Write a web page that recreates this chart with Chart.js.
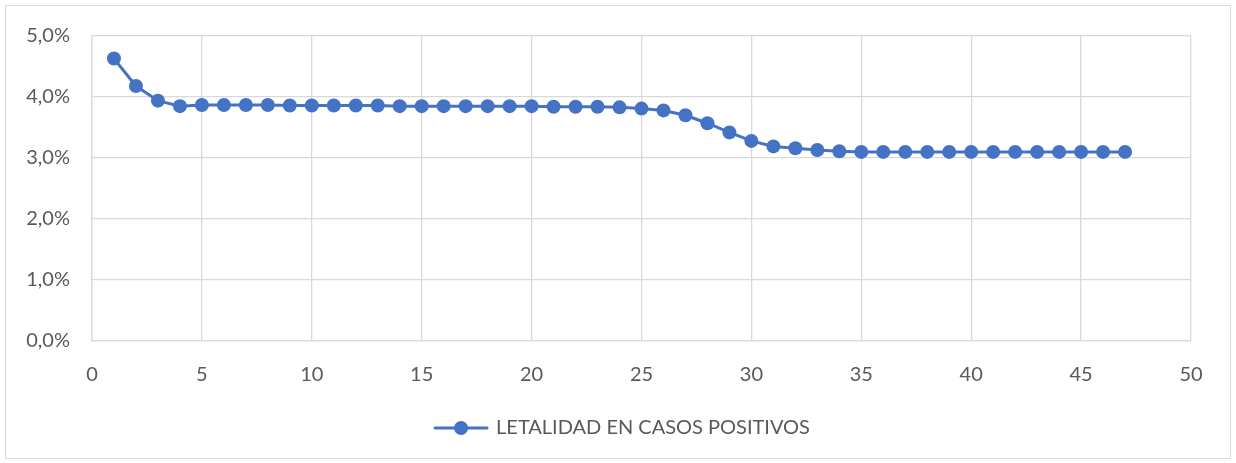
<!DOCTYPE html>
<html>
<head>
<meta charset="utf-8">
<script src="https://cdn.jsdelivr.net/npm/chart.js@4.4.1/dist/chart.umd.min.js"></script>
<style>
  html, body { margin: 0; padding: 0; background: #fff; }
  #frame { position: absolute; left: 5px; top: 5px; width: 1224px; height: 452px; border: 1px solid #d9d9d9; }
  #wrap { position: absolute; left: 0; top: 0; width: 1236px; height: 463px; }
</style>
</head>
<body>
<div id="frame"></div>
<div id="wrap"><canvas id="chart-area"></canvas></div>
<script>
    // dia (eje X) y letalidad en % (eje Y)
    var dias = [1, 2, 3, 4, 5, 6, 7, 8, 9, 10, 11, 12, 13, 14, 15, 16, 17, 18, 19, 20,
        21, 22, 23, 24, 25, 26, 27, 28, 29, 30, 31, 32, 33, 34, 35, 36, 37, 38, 39, 40,
        41, 42, 43, 44, 45, 46, 47];
    var letalidad = [4.63, 4.18, 3.94, 3.85, 3.87, 3.87, 3.87, 3.87, 3.86, 3.86,
        3.86, 3.86, 3.86, 3.85, 3.85, 3.85, 3.85, 3.85, 3.85, 3.85,
        3.84, 3.84, 3.84, 3.83, 3.81, 3.78, 3.70, 3.57, 3.42, 3.28,
        3.19, 3.16, 3.13, 3.11, 3.10, 3.10, 3.10, 3.10, 3.10, 3.10,
        3.10, 3.10, 3.10, 3.10, 3.10, 3.10, 3.10];
    var serieLabel = 'LETALIDAD EN CASOS POSITIVOS';

    var azul = '#4472C4';
    var gris = '#d9d9d9';
    var texto = '#595959';
    var fuente = 'Lato, "Liberation Sans", sans-serif';

    var puntos = [];
    for (var i = 0; i < dias.length; i++) {
        puntos.push({ x: dias[i], y: letalidad[i] });
    }

    // marcador de la leyenda: linea con punto
    var marca = document.createElement('canvas');
    marca.width = 56;
    marca.height = 16;
    var mctx = marca.getContext('2d');
    mctx.strokeStyle = azul;
    mctx.lineWidth = 3;
    mctx.lineCap = 'round';
    mctx.beginPath();
    mctx.moveTo(2, 8);
    mctx.lineTo(54, 8);
    mctx.stroke();
    mctx.fillStyle = azul;
    mctx.beginPath();
    mctx.arc(28, 8, 7, 0, Math.PI * 2);
    mctx.fill();

    // la leyenda va centrada en todo el ancho, no solo hasta el padding derecho
    var moverLeyenda = {
        id: 'moverLeyenda',
        afterLayout: function (chart) {
            var lg = chart.legend;
            if (!lg) return;
            var dx = (chart.width - lg.right - lg.left) / 2 + 5;
            lg.left += dx;
            lg.right += dx;
        }
    };

    Chart.defaults.font.family = fuente;
    Chart.defaults.font.size = 20;
    Chart.defaults.color = texto;

    var ctx = document.getElementById('chart-area').getContext('2d');
    window.myLine = new Chart(ctx, {
        type: 'line',
        data: {
            datasets: [{
                label: serieLabel,
                data: puntos,
                borderColor: azul,
                backgroundColor: azul,
                borderWidth: 3,
                pointRadius: 7,
                pointHoverRadius: 7,
                pointBorderWidth: 0,
                pointStyle: 'circle',
                tension: 0
            }]
        },
        plugins: [moverLeyenda],
        options: {
            responsive: true,
            maintainAspectRatio: false,
            animation: false,
            layout: {
                padding: { left: 0, right: 45, top: 36, bottom: 15 }
            },
            plugins: {
                tooltip: { enabled: false },
                legend: {
                    position: 'bottom',
                    labels: {
                        usePointStyle: true,
                        pointStyle: marca,
                        pointStyleWidth: 50,
                        padding: 10,
                        color: texto,
                        font: { size: 20 }
                    }
                }
            },
            scales: {
                x: {
                    type: 'linear',
                    min: 0,
                    max: 50,
                    ticks: { stepSize: 5, padding: 22, color: texto },
                    grid: { color: gris, lineWidth: 1.3, drawTicks: false },
                    border: { color: gris, width: 1.3 },
                    afterFit: function (scale) { scale.height = 67; }
                },
                y: {
                    min: 0,
                    max: 5,
                    ticks: {
                        stepSize: 1,
                        padding: 22,
                        color: texto,
                        callback: function (v) { return v.toFixed(1).replace('.', ',') + '%'; }
                    },
                    grid: { color: gris, lineWidth: 1.3, drawTicks: false },
                    border: { color: gris, width: 1.3 },
                    afterFit: function (scale) { scale.width = 92; }
                }
            }
        }
    });
</script>
</body>
</html>
